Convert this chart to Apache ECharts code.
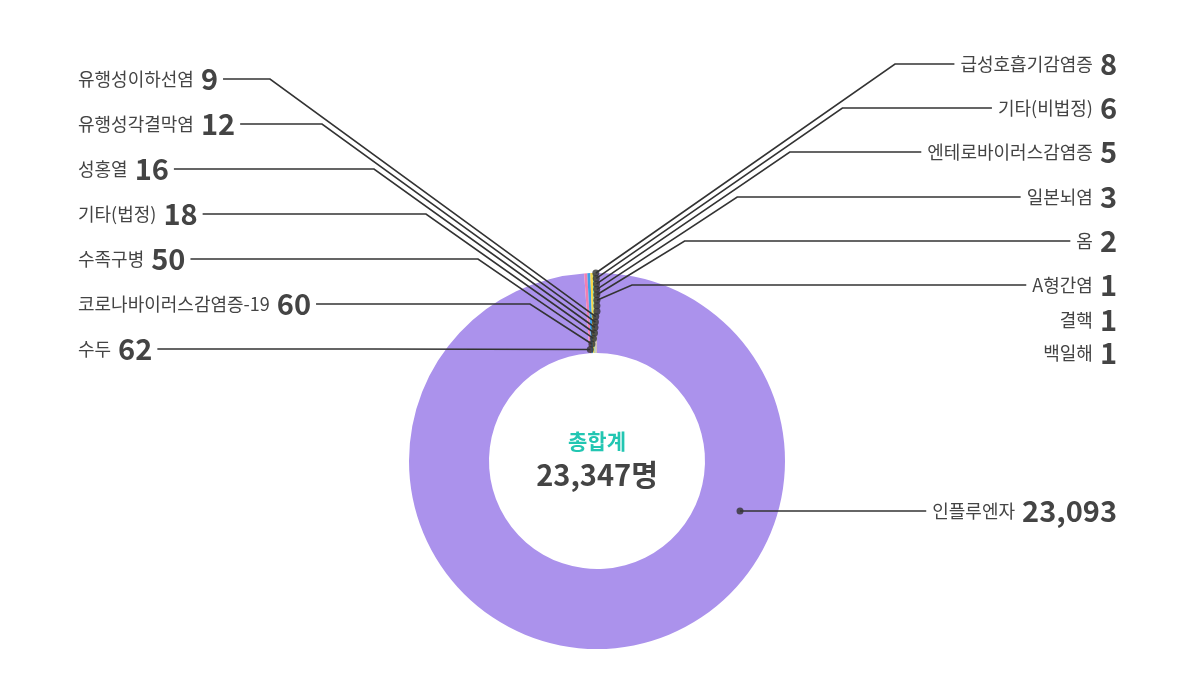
<!DOCTYPE html>
<html>
<head>
<meta charset="utf-8">
<script src="https://cdn.jsdelivr.net/npm/echarts@6/dist/echarts.min.js"></script>
<style>
html,body{margin:0;padding:0;background:#fff;}
#c{width:1200px;height:700px;}
</style>
</head>
<body>
<div id="c"></div>
<script>
// ---- data ----
const categories = ['인플루엔자','수두','코로나바이러스감염증-19','수족구병','기타(법정)','성홍열','유행성각결막염','유행성이하선염','급성호흡기감염증','기타(비법정)','엔테로바이러스감염증','일본뇌염','옴','A형간염','결핵','백일해'];
const values = [23093,62,60,50,18,16,12,9,8,6,5,3,2,1,1,1];
const centerTitle = '총합계';
const unit = '명';

// ---- layout / style ----
const colors = ['#ab92ec','#f27fb2','#3f9fe8','#f7d649','#55c9a6','#f39c5a','#7fd0f0','#e86f6f','#9bd46a','#c77fe0','#ffb347','#6fc3c9','#f08fc0','#8aa4f0','#d4c04a','#70d9b0'];
const cx = 597, cy = 461, rIn = 108, rOut = 188;
const total = values.reduce((a,b)=>a+b,0);
const noLine = new Set(['결핵','백일해']);

const leftRowY = k => 79 + 45*k;
const rightRowY = [64,108,152,197,241,285,320,353];
const bigRowY = 511, bigDotR = 151.5;

// cumulative mid values
const mids = [];
{ let acc = 0; values.forEach(v => { mids.push(acc + v/2); acc += v; }); }

function dotInfo(i){
  if (i === 0) {
    const th = 90 + Math.asin((bigRowY - cy)/bigDotR)*180/Math.PI;
    return [bigDotR, th/360*total];
  }
  const j = i >= 8 ? i - 8 : 15 - i;
  return [rOut - 5.45*j, mids[i]];
}
function toPx(r, a){
  const th = a/total*2*Math.PI;
  return [cx + r*Math.sin(th), cy - r*Math.cos(th)];
}

const dots = categories.map((c,i)=>dotInfo(i));

const chart = echarts.init(document.getElementById('c'));
chart.setOption({
  animation:false,
  backgroundColor:'#fff',
  polar:{center:[cx,cy], radius:rOut},
  radiusAxis:{type:'value',min:0,max:rOut,show:false,axisLine:{show:false},splitLine:{show:false},axisLabel:{show:false},axisTick:{show:false}},
  angleAxis:{type:'value',min:0,max:total,startAngle:90,clockwise:true,show:false,axisLine:{show:false},splitLine:{show:false},axisLabel:{show:false},axisTick:{show:false}},
  graphic:[
    {type:'text', x:cx, y:441, z:10, style:{text:centerTitle, fill:'#22c6b2', font:'bold 21px "Noto Sans CJK KR"', align:'center', verticalAlign:'middle'}},
    {type:'text', x:cx, y:475, z:10, style:{text:total.toLocaleString('en-US')+unit, fill:'#444', font:'bold 29px "Noto Sans CJK KR"', align:'center', verticalAlign:'middle'}}
  ],
  series:[
    {
      type:'pie',
      z:1,
      center:[cx,cy],
      radius:[rIn,rOut],
      startAngle:90,
      clockwise:true,
      silent:true,
      label:{show:false},
      labelLine:{show:false},
      data: categories.map((c,i)=>({name:c, value:values[i], itemStyle:{color:colors[i]}}))
    },
    {
      type:'pie',
      z:3,
      center:[cx,cy],
      radius:[rIn,rOut],
      startAngle:90,
      clockwise:true,
      avoidLabelOverlap:false,
      silent:true,
      itemStyle:{color:'rgba(0,0,0,0)'},
      label:{
        show:true, position:'outside',
        formatter: p => `{n|${p.name}}{v|${p.value.toLocaleString('en-US')}}`,
        rich:{
          n:{fontFamily:'Noto Sans CJK KR', fontSize:18, color:'#444', verticalAlign:'middle'},
          v:{fontFamily:'Noto Sans CJK KR', fontSize:29, fontWeight:'bold', color:'#444', verticalAlign:'middle', padding:[0,0,0,7]}
        }
      },
      labelLine:{show:true, length:10, length2:10, lineStyle:{color:'#333', width:1.6}},
      labelLayout: function(p){
        const i = p.dataIndex;
        const w = p.labelRect.width;
        const d = toPx(dots[i][0], dots[i][1]);
        if (i === 0) {
          const ex = 1117 - w - 6;
          return {x:1117, y:bigRowY, align:'right', verticalAlign:'middle', labelLinePoints:[d,[(d[0]+ex)/2,bigRowY],[ex,bigRowY]]};
        }
        if (i >= 8) {
          const k = i - 8, y = rightRowY[k];
          const ex = 1117 - w - 6;
          const kx = 895 - 52.6*k;
          return {x:1117, y:y, align:'right', verticalAlign:'middle', labelLinePoints:[d,[kx,y],[ex,y]]};
        }
        const k = 7 - i, y = leftRowY(k);
        const ex = 78 + w + 5;
        const kx = k === 6 ? (d[0]+ex)/2 : 270 + 52*k;
        return {x:78, y:y, align:'left', verticalAlign:'middle', labelLinePoints:[d,[kx,y],[ex,y]]};
      },
      data: categories.map((c,i)=>({
        name:c, value:values[i],
        labelLine: noLine.has(c) ? {show:false} : undefined
      }))
    },
    {
      type:'scatter',
      coordinateSystem:'polar',
      silent:true,
      z:5,
      symbolSize:7,
      itemStyle:{color:'#333'},
      data: dots
    }
  ]
});
</script>
</body>
</html>
